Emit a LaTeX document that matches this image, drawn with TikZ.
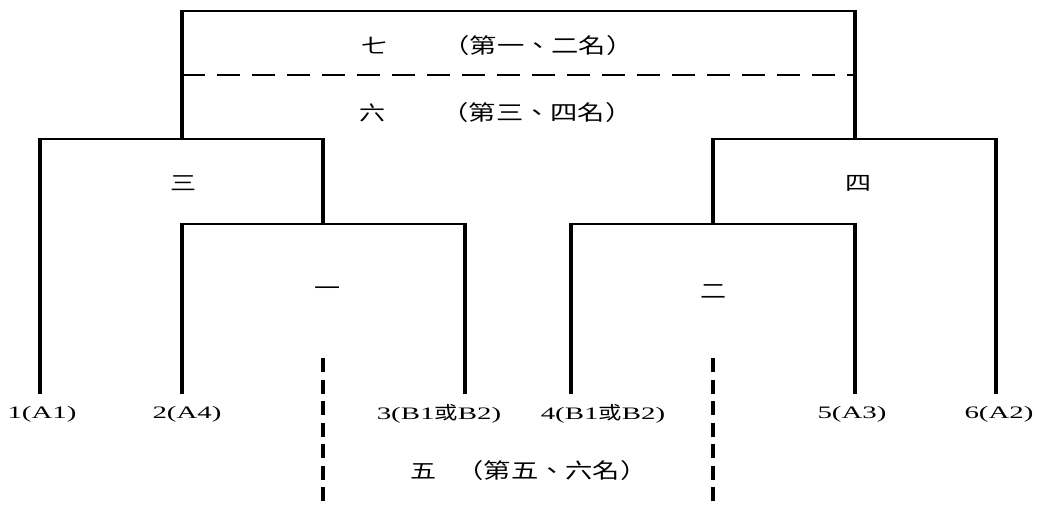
\documentclass[tikz,border=0pt]{standalone}
\usepackage{fontspec}
\setmainfont[FakeStretch=1.65]{Liberation Serif}
\newfontfamily\cjk[FakeStretch=1.3]{Noto Sans CJK TC}
\newcommand{\zh}[1]{{\cjk\fontsize{18}{20}\selectfont #1}}

\tikzset{
  hline/.style={line width=1.3pt},
  vline/.style={line width=3.2pt, shorten >=-0.65pt},
  rankline/.style={line width=1.3pt, dash pattern=on 23pt off 12pt},
  loseline/.style={line width=3.2pt, dash pattern=on 14pt off 7.5pt},
  leaf/.style={font=\fontsize{17.5}{20}\selectfont, inner sep=0pt},
  round/.style={font=\cjk\fontsize{20}{22}\selectfont, inner sep=0pt},
  rank/.style={font=\cjk\fontsize{21}{23}\selectfont, inner sep=0pt}
}

\begin{document}
\begin{tikzpicture}[x=1pt, y=-1pt]
  \useasboundingbox (0,0) rectangle (1037,504);
  % line ends of the six teams
  \foreach \n/\x in {1/40, 2/182, 3/465, 4/571, 5/855, 6/996}
    \coordinate (t\n) at (\x,394);
  % heights of the matches
  \coordinate (g1) at (323,224);
  \coordinate (g2) at (713,224);
  \coordinate (g3) at (40,139);
  \coordinate (g4) at (996,139);
  \coordinate (g7) at (182,11);

  % match one and two
  \draw[hline] (t2 |- g1) -- (t3 |- g1);
  \draw[vline] (t2) -- (t2 |- g1);
  \draw[vline] (t3) -- (t3 |- g1);
  \draw[hline] (t4 |- g2) -- (t5 |- g2);
  \draw[vline] (t4) -- (t4 |- g2);
  \draw[vline] (t5) -- (t5 |- g2);
  % match three and four
  \draw[hline] (g3) -- (g1 |- g3);
  \draw[vline] (t1) -- (g3);
  \draw[vline] (g1) -- (g1 |- g3);
  \draw[hline] (g2 |- g4) -- (g4);
  \draw[vline] (t6) -- (g4);
  \draw[vline] (g2) -- (g2 |- g4);
  % final
  \draw[hline] (g7) -- (t5 |- g7);
  \draw[vline] (t2 |- g3) -- (g7);
  \draw[vline] (t5 |- g4) -- (t5 |- g7);
  \draw[rankline] (182,75) -- (855,75);
  % losers of one and two
  \draw[loseline] (323,358) -- (323,504);
  \draw[loseline] (713,358) -- (713,504);

  \node[round] (r1) at (327,291) {一};
  \node[round] (r2) at (713,292) {二};
  \node[round] (r3) at (183,183) {三};
  \node[round] (r4) at (858,183) {四};
  \node[round] (r7) at (374,46) {七};
  \node[rank] (p7) at (538,46) {（第一、二名）};
  \node[round] (r6) at (372,113) {六};
  \node[rank] (p6) at (537,113) {（第三、四名）};
  \node[round] (r5) at (423,471) {五};
  \node[rank] (p5) at (552,471) {（第五、六名）};

  \node[leaf] (l1) at (42,414) {1(A1)};
  \node[leaf] (l2) at (187,414) {2(A4)};
  \node[leaf] (l3) at (439,414) {3(B1\zh{或}B2)};
  \node[leaf] (l4) at (603,414) {4(B1\zh{或}B2)};
  \node[leaf] (l5) at (852,414) {5(A3)};
  \node[leaf] (l6) at (999,414) {6(A2)};
\end{tikzpicture}
\end{document}
